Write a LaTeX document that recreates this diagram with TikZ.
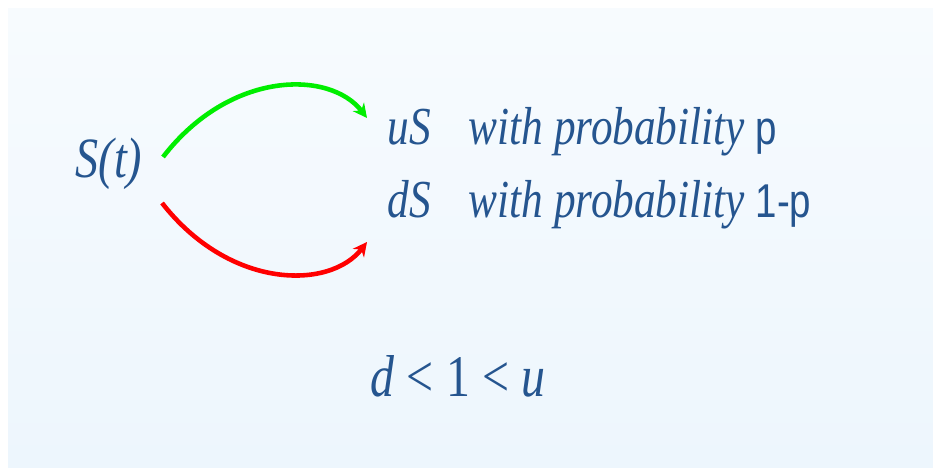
\documentclass[tikz,border=0pt]{standalone}
\usepackage{fontspec}
\setmainfont{Liberation Serif}
\newfontfamily\condserif[FakeStretch=0.81]{Liberation Serif}
\newfontfamily\condsans[FakeStretch=0.81]{Liberation Sans}
\usetikzlibrary{arrows.meta}

\definecolor{txtblue}{HTML}{25558F}
\definecolor{upgreen}{HTML}{00EE00}
\definecolor{downred}{HTML}{FF0000}
\definecolor{bgtop}{HTML}{F7FBFE}
\definecolor{bgbot}{HTML}{EDF6FD}

\newcommand{\probval}[1]{{\condsans\upshape\fontsize{13.5}{16}\selectfont #1}}

\begin{document}
\begin{tikzpicture}[x=0.01cm, y=-0.01cm, >=Stealth,
  lbl/.style={anchor=base west, inner sep=0pt, text=txtblue,
              font=\condserif\itshape\fontsize{15.2}{18}\selectfont},
  branch/.style={line width=1.3pt, -{Stealth[length=4pt, width=4pt]}}]
  % Panel
  \useasboundingbox (0,0) rectangle (933,468);
  \fill[white] (0,0) rectangle (933,468);
  \shade[top color=bgtop, bottom color=bgbot] (8,9) rectangle (933,468);

  % Start value
  \node[lbl, font=\condserif\itshape\fontsize{16.2}{19}\selectfont] (st) at (75,178) {S(t)};

  % Up and down states
  \node[lbl] (u) at (387,145) {uS};
  \node[lbl] (d) at (387,218) {dS};
  \node[lbl] (pu) at (468,145) {with probability \probval{p}};
  \node[lbl] (pd) at (468,218) {with probability \probval{1-p}};

  % Branches
  \draw[branch, upgreen] ([shift={(20,-21)}]st.base east)
    .. controls +(67,-87) and +(-37,-48) .. ([shift={(-20,-27)}]u.base west);
  \draw[branch, downred] ([shift={(19,25)}]st.base east)
    .. controls +(68,87) and +(-37,48) .. ([shift={(-20,24)}]d.base west);

  % Condition
  \node[lbl, font=\condserif\itshape\fontsize{16.8}{20}\selectfont] (ineq) at (370,397)
    {d\hspace{3.5pt}{\upshape<}\hspace{3.5pt}{\upshape 1}\hspace{3.5pt}{\upshape<}\hspace{3.5pt}u};
\end{tikzpicture}
\end{document}
